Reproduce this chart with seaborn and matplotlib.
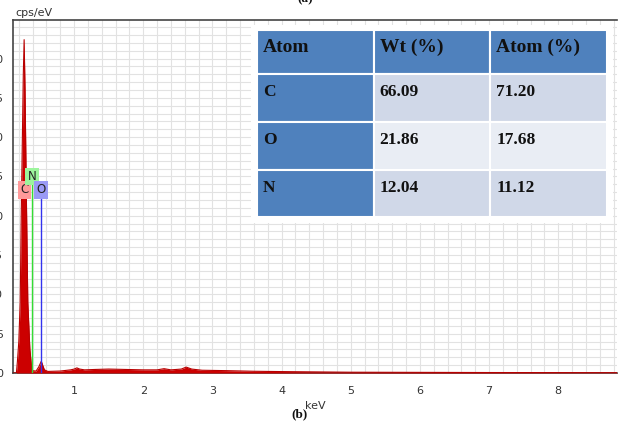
import numpy as np
import pandas as pd
import matplotlib
matplotlib.use("Agg")
import matplotlib.pyplot as plt
from matplotlib.ticker import MultipleLocator
from matplotlib.patches import Rectangle
import seaborn as sns

# ---- spectrum data ----
energy_kev = [0.10, 0.165, 0.18, 0.20, 0.22, 0.235, 0.25, 0.265, 0.277, 0.29, 0.31, 0.33,
              0.36, 0.39, 0.45, 0.49, 0.51, 0.525, 0.545, 0.57, 0.62, 0.80, 0.95, 1.00,
              1.04, 1.08, 1.15, 1.30, 1.50, 1.75, 2.00, 2.20, 2.30, 2.40, 2.55, 2.62,
              2.70, 2.85, 3.20, 3.60, 4.00, 4.50, 5.00, 6.00, 7.00, 8.00, 8.90]
cps_per_ev = [0.0, 0.0, 1.5, 4.0, 9.0, 20.0, 29.0, 38.0, 42.4, 36.0, 22.0, 9.0,
              3.0, 0.3, 0.25, 0.8, 1.2, 1.5, 1.0, 0.4, 0.2, 0.25, 0.4, 0.5,
              0.65, 0.5, 0.4, 0.45, 0.5, 0.45, 0.4, 0.4, 0.55, 0.4, 0.5, 0.75,
              0.5, 0.35, 0.3, 0.22, 0.18, 0.14, 0.1, 0.08, 0.06, 0.05, 0.04]

# element markers
elements = ["C", "N", "O"]
element_kev = [0.277, 0.392, 0.525]
element_box_y = [23.3, 25.0, 23.3]
element_face = ["#ff9a9a", "#9cf59c", "#9a9af5"]
element_line = ["#cc0000", "#33dd33", "#3333ee"]

# table data
table_header = ["Atom", "Wt (%)", "Atom (%)"]
table_atoms = ["C", "O", "N"]
table_wt = ["66.09", "21.86", "12.04"]
table_at = ["71.20", "17.68", "11.12"]

df = pd.DataFrame({"keV": energy_kev, "cps": cps_per_ev})

sns.set_style("white")
plt.rcParams["font.family"] = ["DejaVu Sans"]

W, H = 618, 423
fig = plt.figure(figsize=(W / 100, H / 100), dpi=100)
fig.patch.set_facecolor("white")

ax_left, ax_right, ax_top, ax_bottom = 13, 617, 20, 373
ax = fig.add_axes([ax_left / W, 1 - ax_bottom / H, (ax_right - ax_left) / W, (ax_bottom - ax_top) / H])

ax.set_xlim(0.116, 8.85)
ax.set_ylim(0, 44.9)

ax.fill_between(df["keV"], 0, df["cps"], color="#cc0000", zorder=3, lw=0)
sns.lineplot(data=df, x="keV", y="cps", ax=ax, color="#b80000", lw=0.8, zorder=4)

# grid
ax.xaxis.set_major_locator(MultipleLocator(1))
ax.xaxis.set_minor_locator(MultipleLocator(0.2))
ax.yaxis.set_major_locator(MultipleLocator(5))
ax.yaxis.set_minor_locator(MultipleLocator(1))
ax.grid(True, which="both", color="#e2e2e2", lw=0.8, zorder=0)
ax.set_axisbelow(True)

ax.tick_params(axis="x", which="major", direction="out", length=7, width=1, color="#444444",
               labelsize=8, labelcolor="#333333", pad=2)
ax.tick_params(axis="x", which="minor", direction="out", length=4, width=1, color="#444444")
ax.tick_params(axis="y", which="major", direction="out", length=5, width=1, color="#444444",
               labelsize=8, labelcolor="#333333", pad=2)
ax.tick_params(axis="y", which="minor", direction="out", length=3, width=1, color="#444444")
ax.set_xticks([1, 2, 3, 4, 5, 6, 7, 8])
ax.set_yticks([0, 5, 10, 15, 20, 25, 30, 35, 40])

for s in ["left", "bottom", "top"]:
    ax.spines[s].set_color("#444444")
    ax.spines[s].set_linewidth(1.2)
ax.spines["right"].set_visible(False)

ax.set_xlabel("keV", fontsize=8, color="#333333", labelpad=4)
ax.set_ylabel("")
fig.text(15 / W, 1 - 13 / H, "cps/eV", fontsize=8, color="#333333", ha="left", va="center")

# element markers
for el, kev, by, fc, lc in zip(elements, element_kev, element_box_y, element_face, element_line):
    if el != "C":
        ax.plot([kev, kev], [0, by - 0.9], color=lc, lw=1, zorder=5)
    ax.text(kev, by, el, fontsize=8.5, color="#222222", ha="center", va="center", zorder=6,
            bbox=dict(boxstyle="square,pad=0.2", fc=fc, ec="none"))

# table
tx0, tx1, ty0 = 257, 607, 30
col_w = (tx1 - tx0) / 3
row_h = [44, 48, 48, 47]
blue = "#4f81bd"
light1 = "#d0d8e8"
light2 = "#e9edf4"
fig.patches.append(Rectangle((251 / W, 1 - 223 / H), 362 / W, 198 / H, transform=fig.transFigure,
                             fc="white", ec="none", zorder=10))
rows = [table_header] + [[a, w, t] for a, w, t in zip(table_atoms, table_wt, table_at)]
y = ty0
for r, row in enumerate(rows):
    for c, txt in enumerate(row):
        if r == 0 or c == 0:
            fc = blue
        else:
            fc = light1 if r % 2 == 1 else light2
        x = tx0 + c * col_w
        fig.patches.append(Rectangle((x / W, 1 - (y + row_h[r]) / H), col_w / W, row_h[r] / H,
                                     transform=fig.transFigure, fc=fc, ec="white", lw=1.5, zorder=11))
        fig.text((x + 6) / W, 1 - (y + (17 if r == 0 else 18)) / H, txt,
                 family=["Liberation Serif"], weight="bold",
                 fontsize=14 if r == 0 else 12.5, color="#111111", ha="left", va="center", zorder=12)
    y += row_h[r]

fig.text(300 / W, 1 - 414 / H, "(b)", family=["Liberation Serif"], weight="bold", fontsize=9.5,
         ha="center", va="center", color="#111111")
fig.text(305 / W, 1 + 1 / H, "(a)", family=["Liberation Serif"], weight="bold", fontsize=9.5,
         ha="center", va="center", color="#111111")

fig.savefig("out.png", dpi=100)
